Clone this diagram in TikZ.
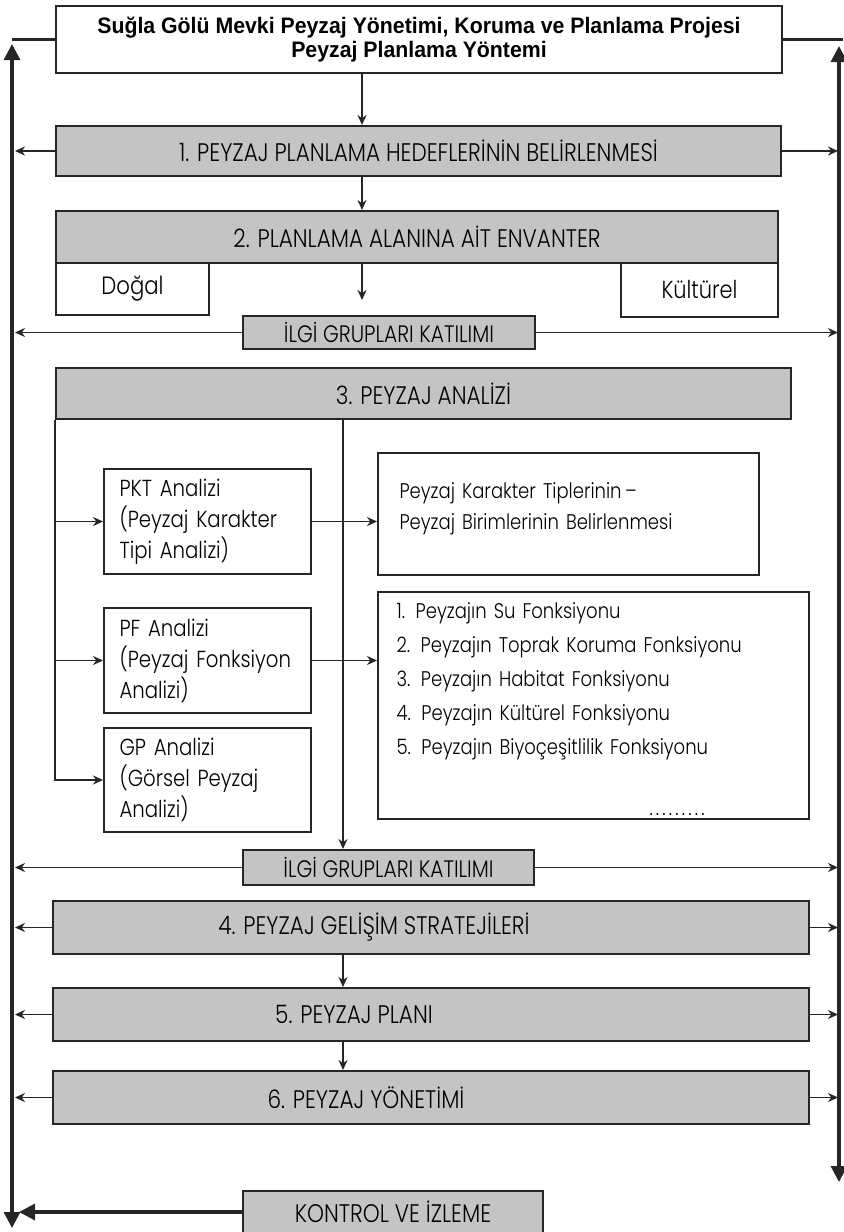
\documentclass[tikz,border=0pt]{standalone}
\usepackage{fontspec}
\setmainfont{Poppins}
\newfontfamily\titlefont[FakeStretch=0.95]{Liberation Sans}
\newfontfamily\gothic[FakeStretch=0.85]{Poppins Light}
\usetikzlibrary{arrows.meta}
\definecolor{boxgray}{RGB}{196,196,196}
\definecolor{ink}{RGB}{38,38,38}

\begin{document}
\begin{tikzpicture}[x=0.5pt, y=-0.5pt,
    box/.style={draw=ink, line width=1pt, anchor=north west, inner sep=0pt,
      font=\gothic\fontsize{11.6}{15.5}\selectfont},
    gbox/.style={box, fill=boxgray, font=\gothic\fontsize{12.7}{14}\selectfont},
    hfont/.style={font=\gothic\fontsize{12.7}{14}\selectfont},
    flow/.style={draw=ink, line width=0.8pt, -{Stealth[length=5pt,width=4.5pt]}},
    frame/.style={draw=ink, line width=1.6pt},
  ]
    \useasboundingbox (0,0) rectangle (843,1232);
    \coordinate (mA) at (362,0);
    \coordinate (mB) at (343,0);
    \coordinate (L) at (15,0);
    \coordinate (R) at (838,0);
    \coordinate (e2) at (362,300);
    \coordinate (tl) at (12,44);
    \coordinate (bl) at (12,1228);
    \coordinate (tr) at (839,46);
    \coordinate (br) at (839,1182);
    \coordinate (kl) at (19,0);
    \coordinate (fr) at (843,0);
    \node[box, minimum width=363pt, minimum height=33.5pt, align=center,
      font=\titlefont\bfseries\fontsize{11.2}{12.3}\selectfont] (title) at (55,5)
      {Suğla Gölü Mevki Peyzaj Yönetimi, Koruma ve Planlama Projesi\\Peyzaj Planlama Yöntemi};
    \node[gbox, minimum width=362.5pt, minimum height=25pt] (b1) at (55,125) {1. PEYZAJ PLANLAMA HEDEFLERİNİN BELİRLENMESİ};
    \node[gbox, minimum width=361pt, minimum height=26pt] (b2) at (55,210) {2. PLANLAMA ALANINA AİT ENVANTER};
    \node[box, minimum width=76.5pt, minimum height=26pt, font=\gothic\fontsize{12.5}{14}\selectfont] (dogal) at (55,262) {Doğal};
    \node[box, minimum width=78.5pt, minimum height=27pt, font=\gothic\fontsize{12.3}{14}\selectfont] (kultur) at (620,262) {Kültürel};
    \node[gbox, minimum width=146pt, minimum height=16.5pt, font=\gothic\fontsize{11.9}{13}\selectfont] (ilgiA) at (242,315) {İLGİ GRUPLARI KATILIMI};
    \node[gbox, minimum width=367.5pt, minimum height=25.5pt] (b3) at (55,367) {3. PEYZAJ ANALİZİ};
    \node[box, minimum width=103.5pt, minimum height=52.5pt, text width=88pt, align=left] (pkt) at (103,468) {PKT Analizi\\(Peyzaj Karakter\\Tipi Analizi)};
    \node[box, minimum width=190.5pt, minimum height=61pt, text width=169pt, align=left,
      font=\gothic\fontsize{10.6}{15.8}\selectfont] (pktR) at (377,452)
      {Peyzaj Karakter Tiplerinin\,–\\Peyzaj Birimlerinin Belirlenmesi\\[-8pt]\mbox{}};
    \node[box, minimum width=103.5pt, minimum height=52.5pt, text width=88pt, align=left] (pf) at (103,607) {PF Analizi\\(Peyzaj Fonksiyon\\Analizi)};
    \node[box, minimum width=215.5pt, minimum height=113.5pt, text width=197pt, align=left,
      font=\gothic\fontsize{10.6}{16.9}\selectfont] (pfR) at (377,591)
      {1. Peyzajın Su Fonksiyonu\\2. Peyzajın Toprak Koruma Fonksiyonu\\3. Peyzajın Habitat Fonksiyonu\\4. Peyzajın Kültürel Fonksiyonu\\5. Peyzajın Biyoçeşitlilik Fonksiyonu\\[10pt]\hspace*{126.5pt}\raisebox{-4pt}[0pt][0pt]{.\kern1.6pt.\kern1.6pt.\kern1.6pt.\kern1.6pt.\kern1.6pt.\kern1.6pt.\kern1.6pt.\kern1.6pt.}};
    \node[box, minimum width=103.5pt, minimum height=52pt, text width=88pt, align=left] (gp) at (103,727) {GP Analizi\\(Görsel Peyzaj\\Analizi)};
    \node[gbox, minimum width=145.5pt, minimum height=17.5pt, font=\gothic\fontsize{11.9}{13}\selectfont] (ilgiB) at (242,849) {İLGİ GRUPLARI KATILIMI};
    \node[gbox, minimum width=378pt, minimum height=26.5pt,
      label={[hfont, anchor=center, xshift=-28.5pt]center:4. PEYZAJ GELİŞİM STRATEJİLERİ}] (b4) at (52,900) {};
    \node[gbox, minimum width=378pt, minimum height=26.5pt,
      label={[hfont, anchor=center, xshift=-38.5pt]center:5. PEYZAJ PLANI}] (b5) at (52,987) {};
    \node[gbox, minimum width=378pt, minimum height=26.5pt,
      label={[hfont, anchor=center, xshift=-32.5pt]center:6. PEYZAJ YÖNETİMİ}] (b6) at (52,1070) {};
    \node[gbox, minimum width=150pt, minimum height=21pt] (kontrol) at (242,1190) {KONTROL VE İZLEME};
    % main flow
    \draw[flow] (title.south -| mA) -- (b1.north -| mA);
    \draw[flow] (b1.south -| mA) -- (b2.north -| mA);
    \draw[flow] (b2.south -| mA) -- (e2);
    \draw[flow] (b3.south -| mB) -- (ilgiB.north -| mB);
    \draw[flow] (b4.south -| mB) -- (b5.north -| mB);
    \draw[flow] (b5.south -| mB) -- (b6.north -| mB);
    % analysis branches
    \draw[flow] (b3.south west) |- (gp.west);
    \draw[flow] (b3.south west |- pkt.west) -- (pkt.west);
    \draw[flow] (b3.south west |- pf.west) -- (pf.west);
    \draw[flow] (pkt.east) -- (pkt.east -| pktR.west);
    \draw[flow] (pf.east) -- (pf.east -| pfR.west);
    % to the sides
    \foreach \n in {b1,ilgiA,ilgiB,b4,b5,b6} {
      \draw[flow] (\n.west) -- (\n.west -| L);
      \draw[flow] (\n.east) -- (\n.east -| R);
    }
    % outer frame
    \draw[frame] (title.west) -- (title.west -| tl);
    \draw[frame] (title.east) -- (title.east -| fr);
    \draw[frame, {Triangle[length=8pt,width=8pt]}-{Triangle[length=8pt,width=8pt]}] (tl) -- (bl);
    \draw[frame, {Triangle[length=8pt,width=8pt]}-{Triangle[length=8pt,width=8pt]}] (tr) -- (br);
    \draw[frame, -{Triangle[length=8pt,width=8pt]}] (kontrol.west) -- (kontrol.west -| kl);
\end{tikzpicture}
\end{document}
